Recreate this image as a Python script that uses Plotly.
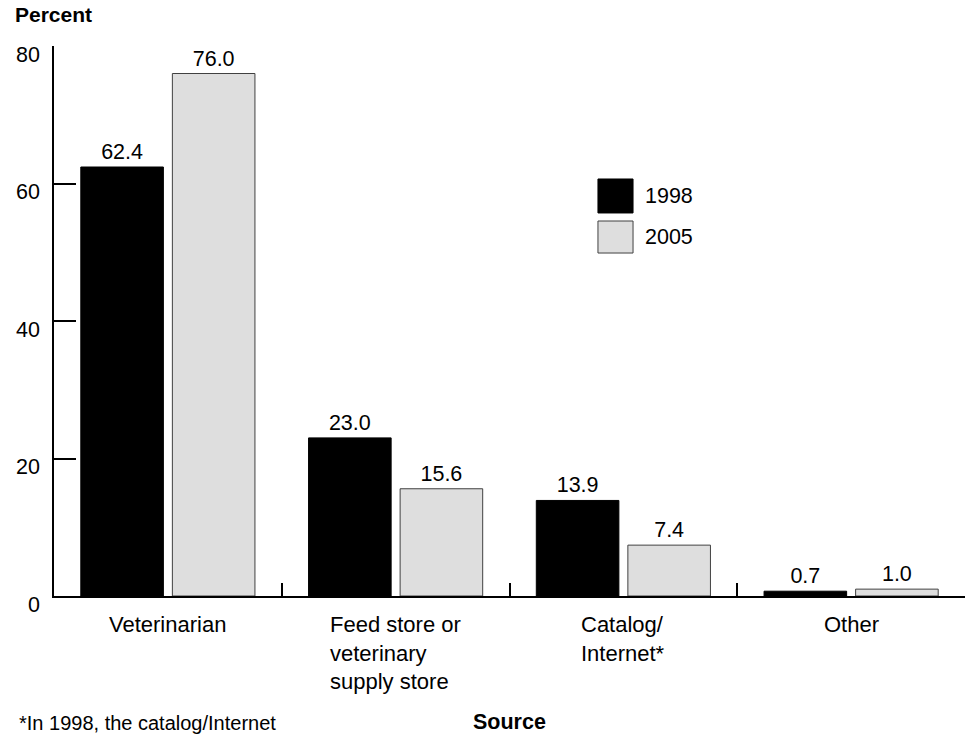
import plotly.graph_objects as go

# Source of supplies, share of operations (percent)
categories = ["Veterinarian", "Feed store or veterinary supply store",
              "Catalog/ Internet*", "Other"]
category_labels = ["Veterinarian", "Feed store or<br>veterinary<br>supply store",
                   "Catalog/<br>Internet*", "Other"]
values_1998 = [62.4, 23.0, 13.9, 0.7]
values_2005 = [76.0, 15.6, 7.4, 1.0]
year_labels = ["1998", "2005"]
y_ticks = [0, 20, 40, 60, 80]

FONT = "Liberation Sans, Arial, sans-serif"
BLACK = "#000000"
GRAY = "#dedede"
EDGE = "#404040"

fig = go.Figure()
fig.add_trace(go.Bar(
    x=categories, y=values_1998, name=year_labels[0],
    marker=dict(color=BLACK, line=dict(color=BLACK, width=1)),
    text=[f"{v:.1f}" for v in values_1998], textposition="outside",
    textfont=dict(family=FONT, size=21.5, color="black"),
    cliponaxis=False, constraintext="none",
))
fig.add_trace(go.Bar(
    x=categories, y=values_2005, name=year_labels[1],
    marker=dict(color=GRAY, line=dict(color=EDGE, width=1)),
    text=[f"{v:.1f}" for v in values_2005], textposition="outside",
    textfont=dict(family=FONT, size=21.5, color="black"),
    cliponaxis=False, constraintext="none",
))

# Multi-line, left-aligned category labels under the axis
for cat, lab in zip(categories, category_labels):
    fig.add_annotation(
        x=cat, y=0, xref="x", yref="y", text=lab, showarrow=False,
        xanchor="center", yanchor="top", align="left", yshift=-14,
        font=dict(family=FONT, size=22, color="black"),
    )

# Legend swatches
swatch_x0, swatch_x1 = 0.5971, 0.6356
swatches = [(BLACK, BLACK, 0.7582, 0.6964), (GRAY, EDGE, 0.6818, 0.6236)]
for (fill, edge, top, bottom), year in zip(swatches, year_labels):
    fig.add_shape(type="rect", xref="paper", yref="paper",
                  x0=swatch_x0, x1=swatch_x1, y0=bottom, y1=top,
                  fillcolor=fill, line=dict(color=edge, width=1))
    fig.add_annotation(x=0.6465, y=(top + bottom) / 2, xref="paper", yref="paper",
                       text=year, showarrow=False, xanchor="left", yanchor="middle",
                       font=dict(family=FONT, size=21.5, color="black"))

# Titles and footnote
fig.add_annotation(x=-0.045, y=1.0564, xref="paper", yref="paper", text="<b>Percent</b>",
                   showarrow=False, xanchor="left", yanchor="middle",
                   font=dict(family=FONT, size=21, color="black"))
fig.add_annotation(x=0.5, y=-0.229, xref="paper", yref="paper", text="<b>Source</b>",
                   showarrow=False, xanchor="center", yanchor="middle",
                   font=dict(family=FONT, size=21.5, color="black"))
fig.add_annotation(x=-0.0406, y=-0.231, xref="paper", yref="paper",
                   text="*In 1998, the catalog/Internet",
                   showarrow=False, xanchor="left", yanchor="middle",
                   font=dict(family=FONT, size=20, color="black"))

fig.update_layout(
    width=972, height=736,
    margin=dict(l=54, r=7, t=46, b=140),
    paper_bgcolor="white", plot_bgcolor="white",
    barmode="group", bargap=0.196, bargroupgap=0.098,
    showlegend=False,
    font=dict(family=FONT, size=21.5, color="black"),
)
fig.update_xaxes(
    type="category", showticklabels=False, tickson="boundaries",
    ticks="inside", ticklen=13, tickwidth=1.5, tickcolor="black",
    showline=True, linecolor="black", linewidth=1.5, showgrid=False,
    zeroline=False,
)
fig.update_yaxes(
    range=[0, 80], tickvals=y_ticks, ticktext=[str(t) for t in y_ticks],
    ticks="inside", ticklen=22, tickwidth=1.5, tickcolor="black",
    showline=True, linecolor="black", linewidth=1.5, showgrid=False,
    zeroline=False, ticklabelshift=8, ticklabelstandoff=8,
    tickfont=dict(family=FONT, size=21.5, color="black"),
)

fig.write_html("out.html")
